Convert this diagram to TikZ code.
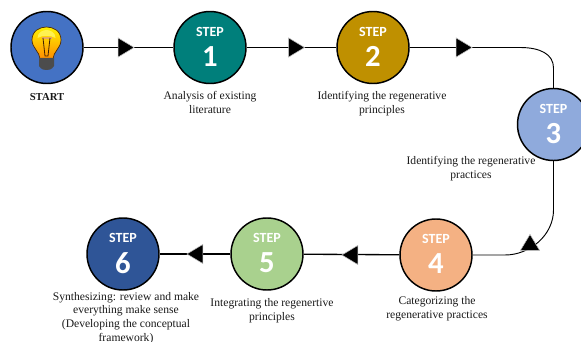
\documentclass[tikz,border=0pt]{standalone}
\usepackage{fontspec}
\setmainfont{Liberation Serif}
\newfontfamily\stepfont{Carlito}
\usetikzlibrary{shapes.geometric}
\definecolor{cstart}{HTML}{4472C4}
\definecolor{cone}{HTML}{007F7B}
\definecolor{ctwo}{HTML}{BF9000}
\definecolor{cthree}{HTML}{8FAADC}
\definecolor{cfour}{HTML}{F4B183}
\definecolor{cfive}{HTML}{A9D18E}
\definecolor{csix}{HTML}{2F5597}
\tikzset{
  x=0.75pt,y=-0.75pt,
  stepcircle/.style={circle,draw=black,line width=1.1pt,minimum size=54pt,inner sep=0pt},
  stepword/.style={inner sep=0pt,text=white,font=\stepfont\bfseries\fontsize{10.5}{11}\selectfont},
  stepdigit/.style={inner sep=0pt,text=white,font=\stepfont\bfseries\fontsize{23}{24}\selectfont},
  link/.style={draw=black,line width=0.7pt},
  arrowhead/.style={isosceles triangle,isosceles triangle apex angle=62,fill=black,draw=black!25,line width=0.4pt,inner sep=0pt,minimum height=12pt,minimum width=12.5pt,anchor=center,shape border rotate=#1},
  caption/.style={font=\fontsize{8.7}{10.3}\selectfont,align=center,text=black!90,inner sep=0pt},
}
\newcommand{\stepparts}[2]{%
  \node[stepword] (#1w) at ([shift={(0,-16)}]#1.center) {STEP};
  \node[stepdigit] (#1d) at ([shift={(0,9)}]#1.center) {#2};
}
\begin{document}
\begin{tikzpicture}
\useasboundingbox (0,0) rectangle (581,342);
\node[stepcircle,fill=cstart] (start) at (47,47.5) {};
\node[stepcircle,fill=cone] (s1) at (210,47.5) {};
\node[stepcircle,fill=ctwo] (s2) at (373,47.5) {};
\node[stepcircle,fill=cthree] (s3) at (553.5,124.5) {};
\node[stepcircle,fill=cfour] (s4) at (436,255) {};
\node[stepcircle,fill=cfive] (s5) at (267,254) {};
\node[stepcircle,fill=csix] (s6) at (123,254) {};
\stepparts{s1}{1}
\stepparts{s2}{2}
\stepparts{s3}{3}
\stepparts{s4}{4}
\stepparts{s5}{5}
\stepparts{s6}{6}
% bulb
\begin{scope}[shift={(46.5,48)}]
  \shade[top color=yellow!90!orange,bottom color=orange!90!yellow,draw=black!70!orange,line width=0.5pt]
    (-6.5,11) .. controls (-6.5,4) and (-14.5,0) .. (-14.5,-8)
    .. controls (-14.5,-17) and (-7,-21) .. (0,-21)
    .. controls (7,-21) and (14.5,-17) .. (14.5,-8)
    .. controls (14.5,0) and (6.5,4) .. (6.5,11) -- cycle;
  \fill[yellow!60!white,opacity=.8] (-9,-10) .. controls (-9,-16) and (-3,-18) .. (0,-18) .. controls (3,-18) and (9,-16) .. (9,-10) .. controls (4,-13) and (-4,-13) .. (-9,-10) -- cycle;
  \fill[black!15!orange!60!white] (-5,-11) rectangle (5,-9);
  \draw[black!75!orange,line width=0.6pt] (-3.5,-10) -- (-1.5,8) -- (1.5,8) -- (3.5,-10);
  \fill[black!70] (-7.5,10) -- (7.5,10) -- (7.5,18) .. controls (5,22) and (2,22) .. (0,22) .. controls (-2,22) and (-5,22) .. (-7.5,18) -- cycle;
\end{scope}
% connectors
\coordinate (c2a) at (520,47.5);
\coordinate (c2b) at (553.5,68);
\coordinate (c3a) at (553.5,210);
\coordinate (c3b) at (505,255);
\draw[link] (start) -- (s1);
\draw[link] (s1) -- (s2);
\draw[link] (s2.east) -- (c2a) .. controls (540,47.5) and (553.5,54) .. (c2b) -- (s3.north);
\draw[link] (s3.south) -- (c3a) .. controls (553.5,235) and (530,255) .. (c3b) -- (s4.east);
\draw[link,line width=1pt] (s4) -- (s5);
\draw[link,line width=1pt] (s5) -- (s6);
\node[arrowhead=0] (a1) at (123.5,47.5) {};
\node[arrowhead=0] (a2) at (294,47.5) {};
\node[arrowhead=0] (a3) at (461.5,47.5) {};
\node[arrowhead=90] (a4) at (530,245) {};
\node[arrowhead=180] (a5) at (352.5,255) {};
\node[arrowhead=180] (a6) at (197.5,254) {};
% texts
\node[caption,font=\fontsize{8}{10.6}\selectfont\bfseries] (t0) at (47,97) {START};
\node[caption] (t1) at (210,102.5) {Analysis of existing\\literature};
\node[caption] (t2) at (382,104) {Identifying the regenerative\\principles};
\node[caption] (t3) at (471,168.5) {Identifying the regenerative\\practices};
\node[caption] (t4) at (437,309) {Categorizing the\\regenerative practices};
\node[caption] (t5) at (272,310.5) {Integrating the regenertive\\principles};
\node[caption] (t6) at (126,318) {Synthesizing: review and make\\everything make sense\\(Developing the conceptual\\framework)};
\end{tikzpicture}
\end{document}
